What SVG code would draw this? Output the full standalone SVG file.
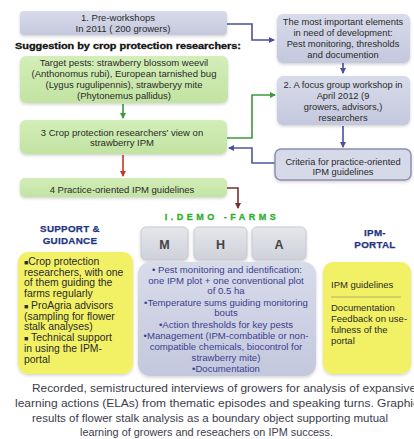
<svg xmlns="http://www.w3.org/2000/svg" width="414" height="439" viewBox="0 0 414 439">
<defs>
<linearGradient id="lav" x1="0" y1="0" x2="0" y2="1"><stop offset="0" stop-color="#d8dbea"/><stop offset="1" stop-color="#c4c8dd"/></linearGradient>
<linearGradient id="grn" x1="0" y1="0" x2="0" y2="1"><stop offset="0" stop-color="#d3eeb8"/><stop offset="1" stop-color="#c2e3a2"/></linearGradient>
<linearGradient id="gry" x1="0" y1="0" x2="0" y2="1"><stop offset="0" stop-color="#e6e7ec"/><stop offset="1" stop-color="#cfd1da"/></linearGradient>
<filter id="sh" x="-10%" y="-10%" width="120%" height="130%"><feDropShadow dx="0" dy="1.5" stdDeviation="1.5" flood-color="#000" flood-opacity="0.18"/></filter>
<marker id="aP" markerWidth="6" markerHeight="6" refX="5" refY="3" orient="auto" markerUnits="userSpaceOnUse"><path d="M0,0 L6,3 L0,6 z" fill="#4b4f9c"/></marker>
<marker id="aG" markerWidth="6" markerHeight="6" refX="5" refY="3" orient="auto" markerUnits="userSpaceOnUse"><path d="M0,0 L6,3 L0,6 z" fill="#3d9a3d"/></marker>
<marker id="aR" markerWidth="6" markerHeight="6" refX="5" refY="3" orient="auto" markerUnits="userSpaceOnUse"><path d="M0,0 L6,3 L0,6 z" fill="#c0392b"/></marker>
<marker id="aB" markerWidth="6" markerHeight="6" refX="5" refY="3" orient="auto" markerUnits="userSpaceOnUse"><path d="M0,0 L6,3 L0,6 z" fill="#7a3030"/></marker>
</defs>
<style>
text{font-family:"Liberation Sans",Arial,sans-serif}
.t{font-size:9.5px;fill:#2a2a2a;text-anchor:middle}
.tr{font-size:9.3px;fill:#2a2a2a;text-anchor:middle}
.tl{font-size:10.4px;fill:#2a2a2a}
.tp{font-size:9.5px;fill:#2a2a2a}
.lv{fill:url(#lav);filter:url(#sh)}
.gr{fill:url(#grn);filter:url(#sh)}
.gy{fill:url(#gry);stroke:#c6c8d2;stroke-width:1;filter:url(#sh)}
.ye{fill:#f2f165;filter:url(#sh)}
.bt{font-size:9.6px;fill:#3b3f8f;text-anchor:middle}
.hd{font-weight:bold;fill:#1e3582;text-anchor:middle;font-size:9.8px;letter-spacing:0.3px;stroke:#1e3582;stroke-width:0.25}
.cap{font-size:10.9px;fill:#3c3c4c}
.ln{fill:none;stroke-width:1.6}
</style>

<g id="connectors">
<path class="ln" d="M227,24 H252 V40 H274" stroke="#4b4f9c" marker-end="url(#aP)"/>
<path class="ln" d="M343,63 V73" stroke="#4b4f9c" marker-end="url(#aP)"/>
<path class="ln" d="M343,126 V147" stroke="#4b4f9c" marker-end="url(#aP)"/>
<path class="ln" d="M227,138 H252 V95 H275" stroke="#3d9a3d" marker-end="url(#aG)"/>
<path class="ln" d="M275,163 H252 V148 H229" stroke="#4b5a9c" marker-end="url(#aP)"/>
<path class="ln" d="M123,104 V118" stroke="#3d9a3d" marker-end="url(#aG)"/>
<path class="ln" d="M123,155 V176" stroke="#c0392b" marker-end="url(#aR)"/>
<path class="ln" d="M227,188 H238 V208" stroke="#7a3030" marker-end="url(#aB)"/>
</g>

<g id="n1"><rect class="lv" x="20" y="11" width="207" height="24" rx="4"/>
<text class="t" x="118" y="20.5">1. Pre-workshops</text>
<text class="t" x="123" y="32">In 2011 ( 200 growers)</text></g>

<g id="n-important"><rect class="lv" x="277" y="14" width="133" height="49" rx="6"/>
<text class="tr" x="343" y="25">The most important elements</text>
<text class="tr" x="343" y="36">in need of development:</text>
<text class="tr" x="343" y="47">Pest monitoring, thresholds</text>
<text class="tr" x="343" y="58">and documention</text></g>

<g id="n2"><rect class="lv" x="277" y="76" width="133" height="49" rx="6"/>
<text class="tr" x="343" y="88">2. A focus group workshop in</text>
<text class="tr" x="343" y="99">April 2012 (9</text>
<text class="tr" x="343" y="110">growers, advisors,)</text>
<text class="tr" x="343" y="121">researchers</text></g>

<g id="n-criteria"><rect x="275" y="149" width="136" height="31" rx="6" fill="#d6d9e8" stroke="#8a90b2" stroke-width="1.5" filter="url(#sh)"/>
<text class="tr" x="343" y="165">Criteria for practice-oriented</text>
<text class="tr" x="343" y="175">IPM guidelines</text></g>

<g id="suggestion"><text x="15" y="49" font-size="8.6" font-weight="bold" fill="#111" textLength="226" lengthAdjust="spacingAndGlyphs" stroke="#111" stroke-width="0.3">Suggestion by crop protection researchers:</text></g>

<g id="n-target"><rect class="gr" x="20" y="56" width="208" height="47" rx="6"/>
<text class="t" x="124" y="66" font-size="9.7">Target pests: strawberry blossom weevil</text>
<text class="t" x="124" y="77" font-size="9.7">(Anthonomus rubi), European tarnished bug</text>
<text class="t" x="124" y="88" font-size="9.7">(Lygus rugulipennis),  strawberyy mite</text>
<text class="t" x="124" y="99" font-size="9.7">(Phytonemus pallidus)</text></g>

<g id="n3"><rect class="gr" x="20" y="120" width="207" height="34" rx="6"/>
<text class="t" x="122" y="136">3  Crop protection researchers' view on</text>
<text class="t" x="122" y="146">strawberry IPM</text></g>

<g id="n4"><rect class="gr" x="20" y="178" width="207" height="19" rx="5"/>
<text class="t" x="122" y="193">4  Practice-oriented IPM guidelines</text></g>

<g id="demo-title"><text x="222" y="220" font-size="9" font-weight="bold" fill="#2fae2f" text-anchor="middle" letter-spacing="3.5" stroke="#2fae2f" stroke-width="0.3">I.DEMO -FARMS</text></g>

<g id="n-M"><rect class="gy" x="141" y="227" width="47" height="33" rx="5"/><text x="164.5" y="249" font-size="12.5" font-weight="bold" fill="#444" text-anchor="middle">M</text></g>
<g id="n-H"><rect class="gy" x="194" y="227" width="53" height="33" rx="5"/><text x="220.5" y="249" font-size="12.5" font-weight="bold" fill="#444" text-anchor="middle">H</text></g>
<g id="n-A"><rect class="gy" x="252" y="227" width="54" height="33" rx="5"/><text x="279" y="249" font-size="12.5" font-weight="bold" fill="#444" text-anchor="middle">A</text></g>

<g id="n-demo"><rect class="lv" x="138" y="262" width="178" height="114" rx="12"/>
<text class="bt" x="227" y="273">• Pest monitoring and identification:</text>
<text class="bt" x="226" y="284">one IPM plot + one conventional plot</text>
<text class="bt" x="226" y="294">of 0.5 ha</text>
<text class="bt" x="226" y="306">•Temperature sums guiding monitoring</text>
<text class="bt" x="226" y="316">bouts</text>
<text class="bt" x="226" y="328">•Action thresholds for key pests</text>
<text class="bt" x="226" y="339">•Management (IPM-combatible or non-</text>
<text class="bt" x="226" y="350">compatible chemicals, biocontrol for</text>
<text class="bt" x="226" y="361">strawberry mite)</text>
<text class="bt" x="226" y="372">•Documentation</text></g>

<g id="support-title"><text class="hd" x="70" y="232">SUPPORT &amp;</text><text class="hd" x="70" y="244">GUIDANCE</text></g>

<g id="n-support"><rect class="ye" x="18" y="252" width="115" height="122" rx="10"/>
<text class="tl" x="24" y="265"><tspan font-size="7">■</tspan>Crop protection</text>
<text class="tl" x="24" y="276">researchers, with one</text>
<text class="tl" x="24" y="286">of them guiding the</text>
<text class="tl" x="24" y="297">farms regularly</text>
<text class="tl" x="24" y="309"><tspan font-size="7">■</tspan> ProAgria advisors</text>
<text class="tl" x="24" y="320">(sampling for flower</text>
<text class="tl" x="24" y="330">stalk analyses)</text>
<text class="tl" x="24" y="341"><tspan font-size="7">■</tspan> Technical support</text>
<text class="tl" x="24" y="352">in using the IPM-</text>
<text class="tl" x="24" y="363">portal</text></g>

<g id="portal-title"><text class="hd" x="375" y="236">IPM-</text><text class="hd" x="375" y="248">PORTAL</text></g>

<g id="n-portal"><rect class="ye" x="323" y="262" width="88" height="112" rx="10"/>
<text class="tp" x="331" y="288">IPM guidelines</text>
<line x1="331" y1="297" x2="401" y2="297" stroke="#c9c56a" stroke-width="1.5"/>
<text class="tp" x="331" y="311">Documentation</text>
<text class="tp" x="331" y="322">Feedback on use-</text>
<text class="tp" x="331" y="333">fulness of the</text>
<text class="tp" x="331" y="344">portal</text></g>

<g id="caption">
<text class="cap" x="32" y="392" textLength="384" lengthAdjust="spacingAndGlyphs">Recorded, semistructured interviews of growers for analysis of expansive</text>
<text class="cap" x="15" y="407" textLength="404" lengthAdjust="spacingAndGlyphs">learning actions (ELAs) from thematic episodes and speaking turns. Graphic</text>
<text class="cap" x="32" y="422" textLength="356" lengthAdjust="spacingAndGlyphs">results of flower stalk analysis as a boundary object supporting mutual</text>
<text class="cap" x="80" y="436" textLength="253" lengthAdjust="spacingAndGlyphs">learning of growers and reseachers on IPM success.</text>
</g>
</svg>
